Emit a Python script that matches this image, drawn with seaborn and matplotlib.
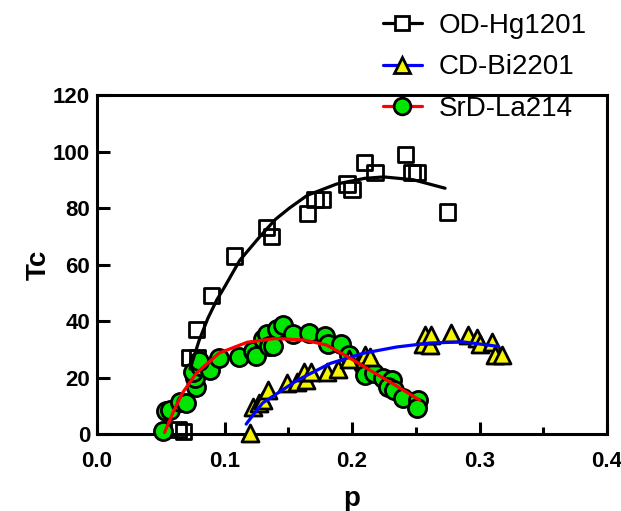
import numpy as np
import pandas as pd
import matplotlib
matplotlib.use("Agg")
import matplotlib.pyplot as plt
import seaborn as sns
from matplotlib.lines import Line2D
from matplotlib.ticker import MultipleLocator

# ---- OD-Hg1201 (open squares) ----
hg_p = [0.064, 0.068, 0.073, 0.079, 0.078, 0.090, 0.108, 0.133, 0.137,
        0.165, 0.171, 0.177, 0.196, 0.200, 0.210, 0.218, 0.242, 0.247, 0.251, 0.275]
hg_tc = [1.5, 1.0, 27, 27, 37, 49, 63, 73, 70,
         78, 83, 83, 88.5, 86.5, 96, 92.5, 99, 92.5, 92.5, 78.6]
hg_fit_p = [0.073, 0.080, 0.087, 0.094, 0.100, 0.112, 0.128, 0.140, 0.151,
            0.165, 0.188, 0.210, 0.225, 0.248, 0.273]
hg_fit_tc = [23, 33, 41, 47.5, 52, 61.5, 70, 76, 80,
             84.5, 88.5, 90.5, 91, 90, 87]

# ---- CD-Bi2201 (yellow triangles) ----
bi_p = [0.120, 0.122, 0.127, 0.130, 0.134, 0.149, 0.157, 0.164, 0.162, 0.168,
        0.180, 0.189, 0.198, 0.210, 0.214, 0.256, 0.261, 0.257, 0.262, 0.278,
        0.291, 0.298, 0.300, 0.310, 0.312, 0.318]
bi_tc = [0.5, 9.5, 11, 12, 15.6, 18, 18.5, 19, 22, 22,
         22, 23, 26.5, 28, 27.3, 32, 31.5, 35, 35, 35.7,
         35, 34, 32, 32.6, 28, 28]
bi_fit_p = [0.117, 0.122, 0.130, 0.157, 0.183, 0.209, 0.235, 0.261, 0.287, 0.315]
bi_fit_tc = [3.5, 6.5, 11, 19, 25, 28.6, 30.8, 32.2, 32.6, 31]

# ---- SrD-La214 (green circles) ----
la_p = [0.052, 0.054, 0.057, 0.065, 0.070, 0.078, 0.077, 0.075, 0.081, 0.089,
        0.080, 0.096, 0.111, 0.122, 0.125, 0.130, 0.133, 0.135, 0.138, 0.141,
        0.146, 0.154, 0.166, 0.179, 0.181, 0.191, 0.198, 0.209, 0.210, 0.217,
        0.224, 0.231, 0.228, 0.233, 0.240, 0.252, 0.251]
la_tc = [1, 8, 8.5, 11.5, 11, 16.6, 20, 22, 24, 22.6,
         26, 27, 27.3, 29.5, 27.5, 33.5, 35.5, 31, 31, 37,
         38.6, 35.5, 35.8, 34.6, 32, 32, 28, 24.4, 21, 21.6,
         20, 19, 16.6, 15.6, 12.7, 12, 9.2]
la_fit_p = [0.053, 0.060, 0.067, 0.078, 0.096, 0.118, 0.140, 0.162, 0.180,
            0.196, 0.214, 0.232, 0.253]
la_fit_tc = [0.5, 8, 14.5, 21.6, 28.7, 32.5, 33.8, 33.3, 31.5,
             27.5, 22.6, 17.8, 12]

labels = ["OD-Hg1201", "CD-Bi2201", "SrD-La214"]
x_ticks = [0.0, 0.1, 0.2, 0.3, 0.4]
y_ticks = [0, 20, 40, 60, 80, 100, 120]

sns.set_style("ticks")
plt.rcParams['font.family'] = ['Liberation Sans', 'DejaVu Sans']
plt.rcParams['text.color'] = 'black'
plt.rcParams['axes.labelcolor'] = 'black'
plt.rcParams['xtick.color'] = 'black'
plt.rcParams['ytick.color'] = 'black'

W, H = 621, 511
fig = plt.figure(figsize=(W / 100, H / 100), dpi=100)
ax = fig.add_axes([97 / W, 77 / H, 510 / W, 339 / H])

green = '#00e600'
yellow = '#f5f500'

sns.scatterplot(x=hg_p, y=hg_tc, marker='s', s=120, facecolor='none',
                edgecolor='black', linewidth=2.0, ax=ax, zorder=2, clip_on=False)
sns.scatterplot(x=la_p, y=la_tc, marker='o', s=170, color=green,
                edgecolor='black', linewidth=2.0, ax=ax, zorder=3, clip_on=False)
sns.scatterplot(x=bi_p, y=bi_tc, marker='^', s=150, color=yellow,
                edgecolor='black', linewidth=2.0, ax=ax, zorder=4, clip_on=False)

sns.lineplot(x=hg_fit_p, y=hg_fit_tc, sort=False, estimator=None, color='black',
             linewidth=2.3, ax=ax, zorder=6)
sns.lineplot(x=bi_fit_p, y=bi_fit_tc, sort=False, estimator=None, color='#0000ff',
             linewidth=2.3, ax=ax, zorder=6)
sns.lineplot(x=la_fit_p, y=la_fit_tc, sort=False, estimator=None, color='#ff0000',
             linewidth=2.3, ax=ax, zorder=6)

ax.set_xlim(0, 0.4)
ax.set_ylim(0, 120)
ax.set_xticks(x_ticks)
ax.set_xticklabels([f"{v:.1f}" for v in x_ticks])
ax.set_yticks(y_ticks)
ax.set_yticklabels([str(v) for v in y_ticks])
ax.xaxis.set_minor_locator(MultipleLocator(0.05))

for s in ax.spines.values():
    s.set_linewidth(2.2)
    s.set_color('black')
    s.set_zorder(1)

ax.tick_params(axis='both', which='major', direction='in', length=9, width=2.2,
               labelsize=16, color='black', labelcolor='black')
ax.tick_params(axis='x', which='minor', direction='in', length=5, width=2.2)
ax.tick_params(axis='x', which='major', pad=12)
ax.tick_params(axis='y', which='major', pad=5)
for lab in ax.get_xticklabels() + ax.get_yticklabels():
    lab.set_fontweight('bold')

ax.set_xlabel('p', fontsize=20, fontweight='bold', labelpad=10, color='black')
ax.set_ylabel('Tc', fontsize=20, fontweight='bold', labelpad=1, color='black')

handles = [
    Line2D([], [], color='black', lw=2.3, marker='s', markersize=10,
           markerfacecolor='white', markeredgecolor='black', markeredgewidth=2),
    Line2D([], [], color='#0000ff', lw=2.3, marker='^', markersize=11,
           markerfacecolor=yellow, markeredgecolor='black', markeredgewidth=2),
    Line2D([], [], color='#ff0000', lw=2.3, marker='o', markersize=12,
           markerfacecolor=green, markeredgecolor='black', markeredgewidth=2),
]
fig.legend(handles, labels, loc='upper left', bbox_to_anchor=(383 / W, 1 - 13 / H),
           frameon=False, fontsize=20, handlelength=1.4, handletextpad=0.6,
           labelspacing=0.55, borderpad=0, borderaxespad=0, labelcolor='black')

fig.savefig('out.png', dpi=100)
